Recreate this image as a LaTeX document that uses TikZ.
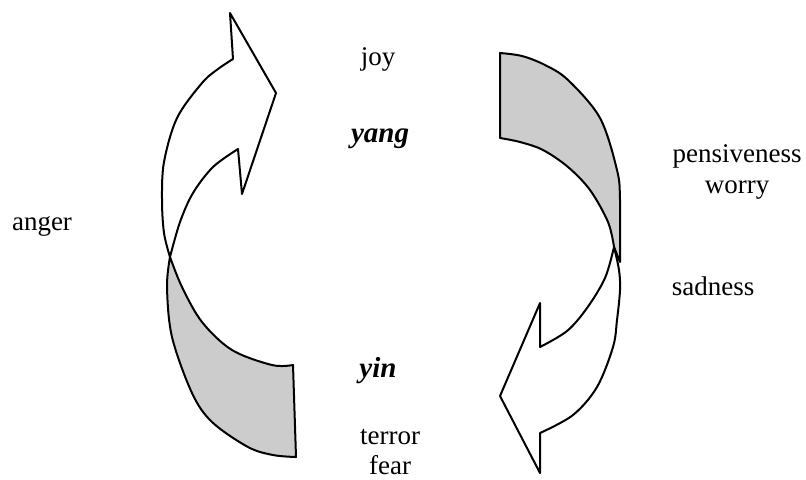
\documentclass[tikz,border=0pt]{standalone}
\usepackage{fontspec}
\setmainfont{Liberation Serif}
\usepackage{xcolor}
\definecolor{bandGray}{RGB}{204,204,204}
\usepackage{tikz}
\usetikzlibrary{positioning}
\newcommand{\emofont}{\fontsize{13.5}{16}\selectfont}
\newcommand{\polefont}{\fontsize{14.5}{16}\selectfont}

\begin{document}
\begin{tikzpicture}[x=0.5pt,y=-0.5pt,
  band/.style={draw=black,line width=1pt,line join=round,fill=bandGray},
  head/.style={draw=black,line width=1pt,line join=round,fill=white},
  curve/.style={smooth,tension=0.55},
  lbl/.style={font=\emofont,anchor=base,inner sep=0pt},
  pole/.style={font=\polefont\bfseries\itshape,anchor=base,inner sep=0pt}]
  \useasboundingbox (0,0) rectangle (806,479);
  % left curved arrow: grey tail, white head pointing right
  \draw[band] plot[curve] coordinates {(170,257) (167,287) (172,337) (192,393)
      (212,422) (248,447) (273,455) (296,457)}
    -- (293,365)
    -- plot[curve] coordinates {(293,365) (272,365) (232,350) (202,322)
      (182,287) (170,257)} -- cycle;
  \draw[head] plot[curve] coordinates {(170,257) (164,233) (162,200) (164,162)
      (177,118) (202,83) (218,69) (233,59)}
    -- (230,13) -- (276,93) -- (242,194) -- (238,149)
    -- plot[curve] coordinates {(238,149) (213,167) (193,193) (180,222)
      (170,257)} -- cycle;
  % right curved arrow: grey tail, white head pointing left
  \draw[band] plot[curve] coordinates {(500,53) (522,56) (545,65) (568,80)
      (600,118) (617,170) (620,200) (620,262)}
    -- (614,247)
    -- plot[curve] coordinates {(614,247) (608,222) (590,190) (568,167)
      (543,150) (520,142) (500,138)} -- cycle;
  \draw[head] plot[curve] coordinates {(614,247) (619,270) (620,290) (617,320)
      (613,347) (597,387) (573,415) (540,433)}
    -- (540,473) -- (500,396) -- (540,303) -- (540,347)
    -- plot[curve] coordinates {(540,347) (567,331) (587,308) (605,278)
      (614,247)} -- cycle;
  % labels
  \node[lbl] (joy) at (378,65) {joy};
  \node[pole] (yang) at (380,142) {yang};
  \node[pole] (yin) at (378,377) {yin};
  \node[lbl] (terror) at (390,444) {terror};
  \node[lbl] (fear) at (390,474) {fear};
  \node[lbl] (anger) at (42,230) {anger};
  \node[lbl] (pensive) at (737,162) {pensiveness};
  \node[lbl] (worry) at (737,193) {worry};
  \node[lbl] (sadness) at (713,295) {sadness};
\end{tikzpicture}
\end{document}
